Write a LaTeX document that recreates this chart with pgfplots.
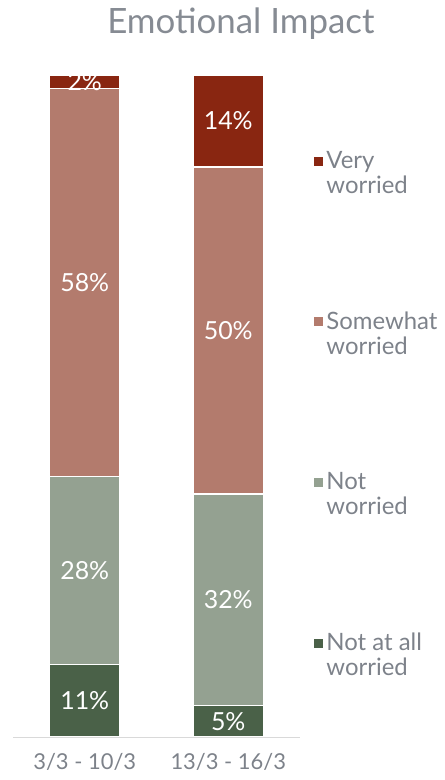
\documentclass[border=0pt]{standalone}
\usepackage{fontspec}
\setmainfont{Lato}
\usepackage{pgfplots}
\usepackage{pgfplotstable}
\pgfplotsset{compat=1.18}
\definecolor{vw}{RGB}{137,38,17}
\definecolor{sw}{RGB}{179,123,109}
\definecolor{nw}{RGB}{148,161,145}
\definecolor{naw}{RGB}{74,97,72}
\definecolor{txt}{RGB}{125,130,138}
\definecolor{ttl}{RGB}{134,139,147}
\pgfplotstableread{
x y lab
0 10.9 11
1 4.8 5
}\tnaw
\pgfplotstableread{
x y lab
0 28.4 28
1 31.9 32
}\tnw
\pgfplotstableread{
x y lab
0 58.7 58
1 49.4 50
}\tsw
\pgfplotstableread{
x y lab
0 2.0 2
1 13.9 14
}\tvw
\begin{document}
\begin{tikzpicture}
\path[use as bounding box] (0,0) rectangle (445bp,780bp);
\begin{axis}[
  at={(13bp,43bp)}, anchor=south west,
  scale only axis, width=287bp, height=662bp,
  ybar stacked, bar width=70bp,
  xmin=-0.5, xmax=1.5, ymin=0, ymax=100,
  axis y line=none, axis x line*=bottom,
  x axis line style={draw=black!15, line width=1bp, -},
  xtick=data, xticklabels={3/3 - 10/3, 13/3 - 16/3},
  major tick length=0pt,
  xticklabel style={font=\fontsize{22}{26}\selectfont, text=txt, yshift=-13bp},
  title={Emotional Impact},
  title style={at={(rel axis cs:0.794,1.068)}, anchor=center, font=\fontsize{35}{40}\selectfont, text=ttl},
  nodes near coords={\pgfplotspointmeta\%},
  point meta=explicit symbolic,
  every node near coord/.append style={font=\fontsize{25}{30}\selectfont, text=white, anchor=center},
  legend style={at={(rel axis cs:1.035,0.891)}, anchor=north west, draw=none, fill=none,
     font=\fontsize{24}{25}\selectfont, text=txt, row sep=113bp, cells={align=left}},
  legend cell align=left,
  reverse legend,
  legend image code/.code={\fill[#1] (0bp,7bp) rectangle (10bp,17bp);},
]
\addplot[fill=naw, draw=white, line width=1.2bp] table[x=x,y=y,meta=lab] {\tnaw};
\addlegendentry{Not at all\\worried}
\addplot[fill=nw, draw=white, line width=1.2bp] table[x=x,y=y,meta=lab] {\tnw};
\addlegendentry{Not\\worried}
\addplot[fill=sw, draw=white, line width=1.2bp] table[x=x,y=y,meta=lab] {\tsw};
\addlegendentry{Somewhat\\worried}
\addplot[fill=vw, draw=white, line width=1.2bp] table[x=x,y=y,meta=lab] {\tvw};
\addlegendentry{Very\\worried}
\end{axis}
\end{tikzpicture}
\end{document}
